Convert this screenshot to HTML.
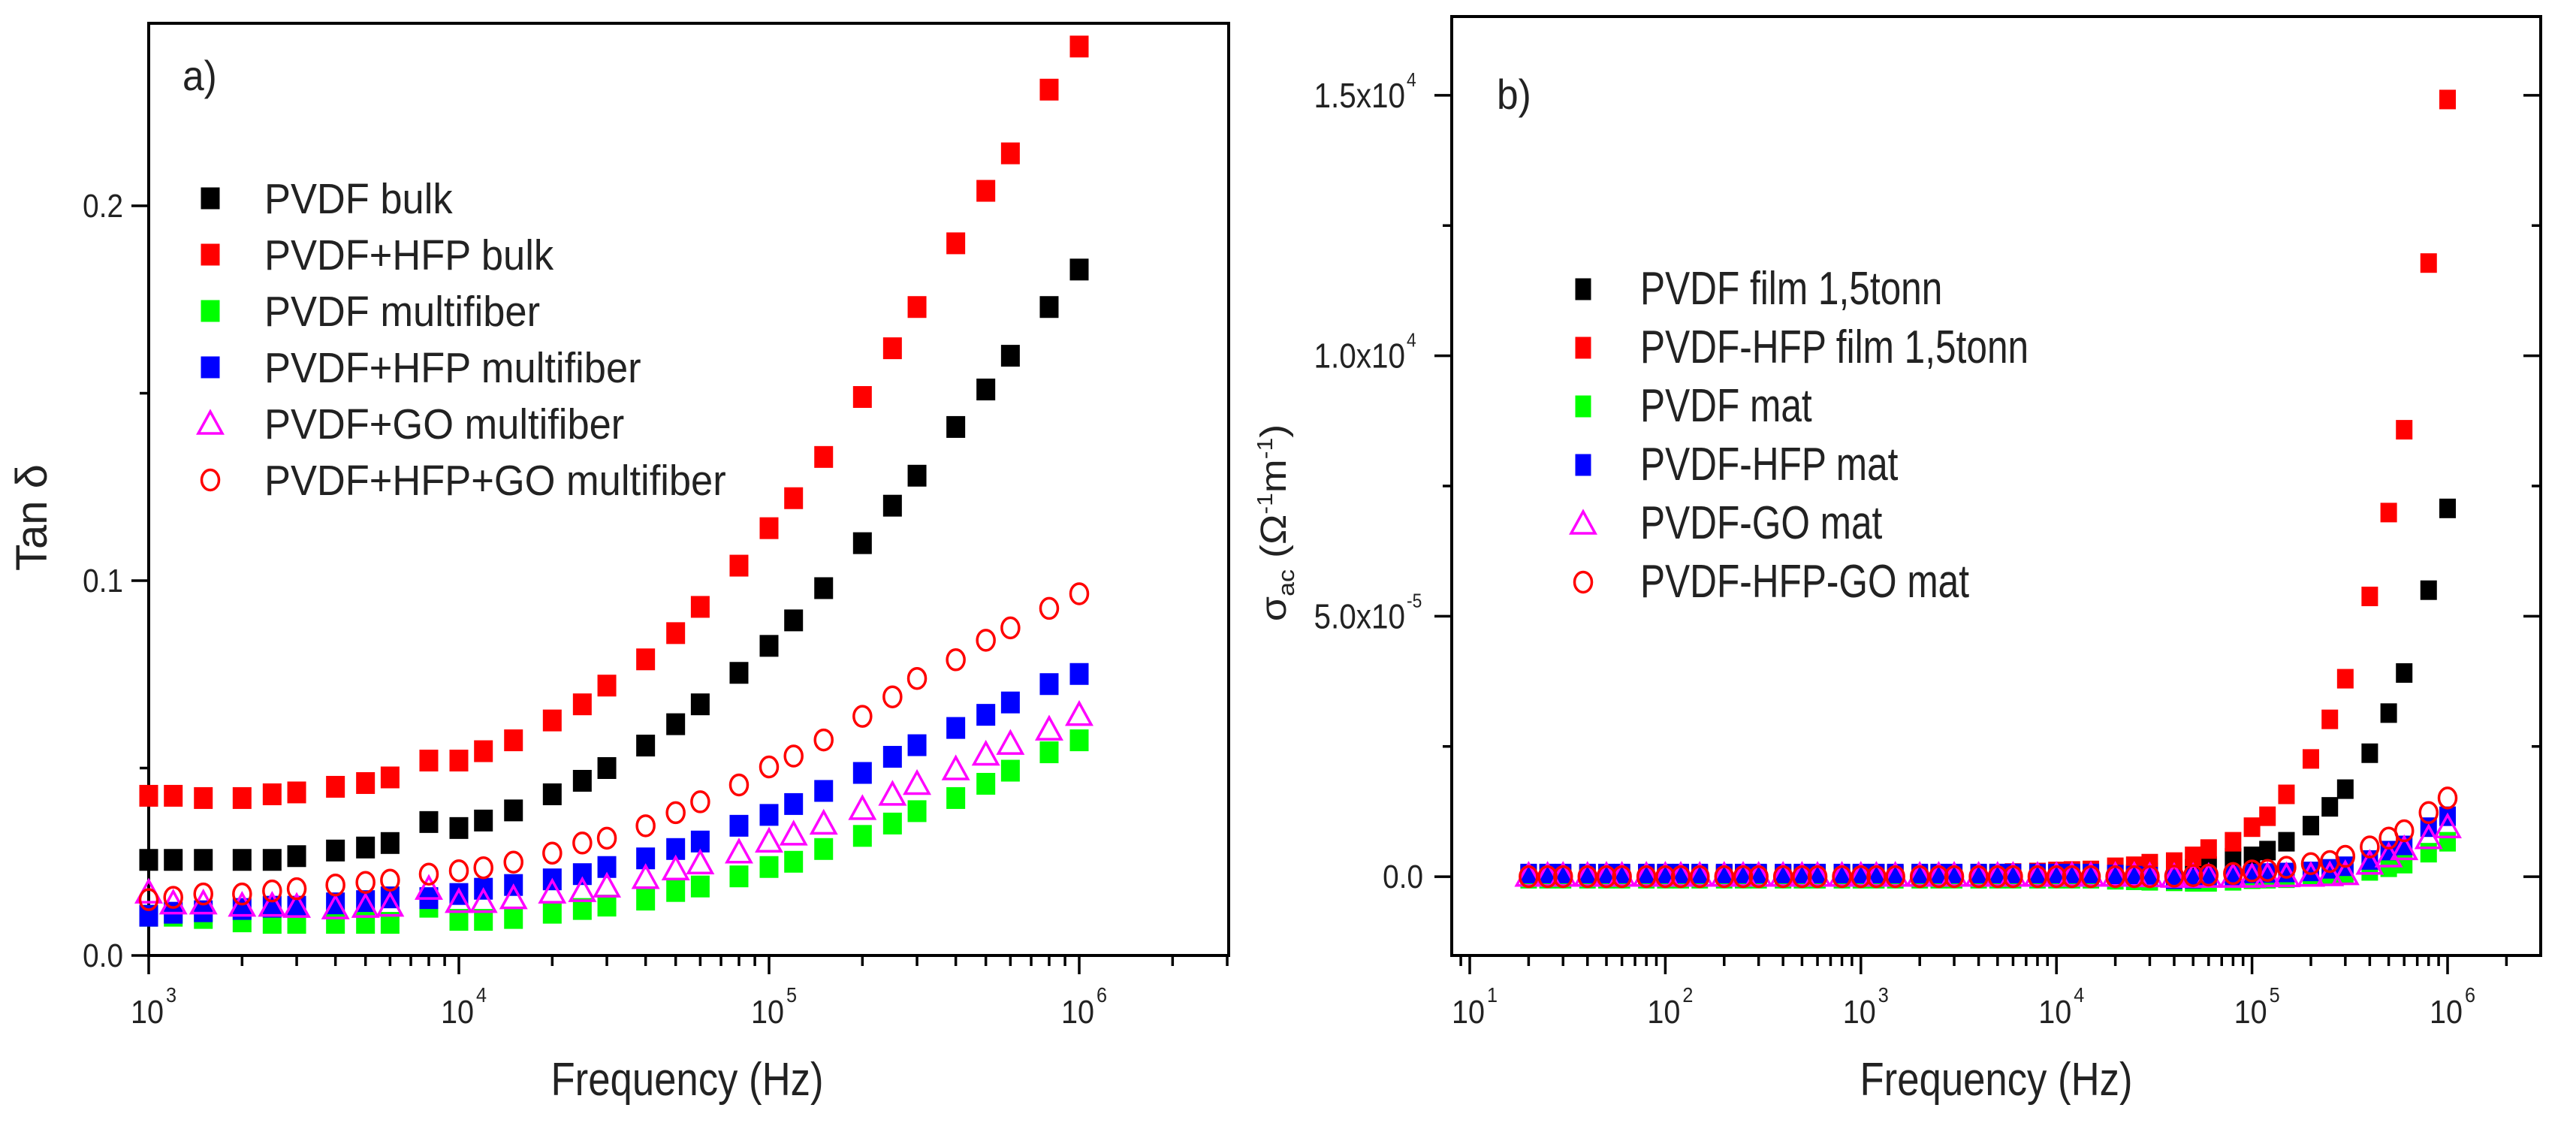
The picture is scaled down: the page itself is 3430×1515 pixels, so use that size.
<!DOCTYPE html>
<html><head><meta charset="utf-8"><style>
html,body{margin:0;padding:0;background:#fff;}
svg{display:block;}
text{font-family:"Liberation Sans",Arial,sans-serif;fill:#222;}
</style></head><body>
<svg id="chart" width="3430" height="1515" viewBox="0 0 3430 1515" xmlns="http://www.w3.org/2000/svg"></svg>
<script>
// ---- Panel a data ----
const freqA = [1e3,1.2e3,1.5e3,2e3,2.5e3,3e3,4e3,5e3,6e3,8e3,1e4,1.2e4,1.5e4,2e4,2.5e4,3e4,4e4,5e4,6e4,8e4,1e5,1.2e5,1.5e5,2e5,2.5e5,3e5,4e5,5e5,6e5,8e5,1e6];
const aPvdfBulk = [0.0255,0.0255,0.0255,0.0255,0.0255,0.0265,0.028,0.0288,0.030,0.0356,0.034,0.036,0.0387,0.043,0.0466,0.050,0.056,0.0617,0.067,0.0754,0.0826,0.0894,0.098,0.110,0.120,0.128,0.141,0.151,0.160,0.173,0.183];
const aHfpBulk = [0.0426,0.0426,0.042,0.042,0.043,0.0435,0.045,0.046,0.0475,0.052,0.052,0.0545,0.0574,0.0627,0.067,0.072,0.079,0.086,0.093,0.104,0.114,0.122,0.133,0.149,0.162,0.173,0.190,0.204,0.214,0.231,0.2425];
const aPvdfFiber = [0.0106,0.0106,0.010,0.0091,0.0087,0.0087,0.0087,0.0087,0.0087,0.013,0.0095,0.0095,0.010,0.0114,0.0124,0.0133,0.0149,0.0172,0.0184,0.0211,0.0236,0.025,0.0284,0.0319,0.0352,0.0385,0.042,0.0458,0.0493,0.0542,0.0574];
const aHfpFiber = [0.0106,0.0114,0.0118,0.0124,0.013,0.013,0.0139,0.0145,0.0155,0.0153,0.0164,0.0178,0.0188,0.0203,0.0217,0.0236,0.0259,0.0284,0.0304,0.0346,0.0375,0.0404,0.0439,0.0487,0.053,0.0561,0.0607,0.0642,0.0675,0.0724,0.0751];
const aGoFiber = [0.0168,0.0139,0.0139,0.0133,0.0133,0.013,0.0126,0.013,0.0133,0.0178,0.0143,0.0143,0.0153,0.0168,0.0172,0.0184,0.0207,0.023,0.0246,0.0275,0.0304,0.0323,0.0352,0.0391,0.0429,0.0458,0.0497,0.0536,0.0565,0.0603,0.0642];
const aHfpGoFiber = [0.0149,0.0155,0.0164,0.0164,0.0172,0.0178,0.0188,0.0195,0.0201,0.0217,0.0226,0.0234,0.0249,0.0273,0.030,0.0313,0.0346,0.0381,0.041,0.0455,0.0503,0.0532,0.0575,0.0638,0.069,0.0739,0.0789,0.0841,0.0874,0.0926,0.0965];
const aYTicks = [0.0,0.1,0.2];
const aYTickLabels = ["0.0","0.1","0.2"];
const aXTickExp = [3,4,5,6];
const aLegend = ["PVDF bulk","PVDF+HFP bulk","PVDF multifiber","PVDF+HFP multifiber","PVDF+GO multifiber","PVDF+HFP+GO multifiber"];

// ---- Panel b data ----
const freqB = [20,25,30,40,50,60,80,100,120,150,200,250,300,400,500,600,800,1e3,1.2e3,1.5e3,2e3,2.5e3,3e3,4e3,5e3,6e3,8e3,1e4,1.2e4,1.5e4,2e4,2.5e4,3e4,4e4,5e4,6e4,8e4,1e5,1.2e5,1.5e5,2e5,2.5e5,3e5,4e5,5e5,6e5,8e5,1e6];
const bPvdfFilm = [30,30,30,30,30,30,30,30,30,30,30,30,30,30,30,30,30,30,30,30,30,30,30,30,30,30,30,30,30,30,40,50,80,120,150,200,360,390,500,670,980,1340,1680,2370,3140,3910,5500,7070];
const bHfpFilm = [50,50,50,50,50,50,50,50,50,50,50,50,50,50,50,50,50,50,50,50,50,50,50,50,60,70,80,100,110,120,180,200,250,280,390,530,670,950,1160,1580,2260,3020,3800,5380,6990,8580,11780,14920];
const bPvdfMat = [-40,-40,-40,-40,-40,-40,-40,-40,-40,-40,-40,-40,-40,-40,-40,-40,-40,-40,-40,-40,-40,-40,-40,-40,-40,-40,-40,-40,-40,-40,-60,-70,-80,-90,-100,-100,-80,-50,-40,-30,0,30,60,110,180,250,460,670];
const bHfpMat = [60,60,60,60,60,60,60,60,60,60,60,60,60,60,60,60,60,60,60,60,60,60,60,60,60,60,60,60,60,60,40,20,0,-50,-40,-20,20,60,70,80,100,150,200,320,500,600,950,1160];
const bGoMat = [20,20,20,20,20,20,20,20,20,20,20,20,20,20,20,20,20,20,20,20,20,20,20,20,20,20,20,20,20,20,20,20,10,0,0,0,0,0,10,10,20,30,50,250,390,530,740,950];
const bHfpGoMat = [0,0,0,0,0,0,0,0,0,0,0,0,0,0,0,0,0,0,0,0,0,0,0,0,0,0,0,0,0,0,0,0,0,10,20,30,60,110,120,180,250,290,390,570,740,880,1230,1510];
const bYTicks = [0,5000,10000,15000];
const bYTickMant = ["0.0","5.0x10","1.0x10","1.5x10"];
const bYTickExp = ["","-5","4","4"];
const bXTickExp = [1,2,3,4,5,6];
const bLegend = ["PVDF film 1,5tonn","PVDF-HFP film 1,5tonn","PVDF mat","PVDF-HFP mat","PVDF-GO mat","PVDF-HFP-GO mat"];

const NS = "http://www.w3.org/2000/svg";
const svg = document.getElementById('chart');
function mk(tag, attrs, parent){
  const e = document.createElementNS(NS, tag);
  for (const k in attrs) e.setAttribute(k, attrs[k]);
  (parent||svg).appendChild(e);
  return e;
}
function txt(parent, x, y, s, size, sx, anchor, name){
  const g = mk('g', {transform:`translate(${x},${y}) scale(${sx},1)`}, parent);
  const t = mk('text', {x:0, y:0, 'font-size':size, 'text-anchor':anchor||'start'}, g);
  
  
  t.textContent = s;
  return t;
}
function marker(parent, type, cx, cy, color, w, h){
  let e;
  if (type === 'sq') e = mk('rect', {x:cx-w/2, y:cy-h/2, width:w, height:h, fill:color}, parent);
  else if (type === 'tri') e = mk('polygon', {points:`${cx},${cy-16} ${cx-16},${cy+13} ${cx+16},${cy+13}`, fill:'none', stroke:color, 'stroke-width':3.5}, parent);
  else e = mk('ellipse', {cx:cx, cy:cy, rx:11.5, ry:13.5, fill:'none', stroke:color, 'stroke-width':3.5}, parent);
  return e;
}
const types = ['sq','sq','sq','sq','tri','circ'];
const colors = ['#000','#ff0000','#00ff00','#0000ff','#ff00ff','#ff0000'];

function panel(cfg){
  const g = mk('g', {});
  
  
  const X = f => cfg.x0 + (Math.log10(f) - cfg.lmin) / (cfg.lmax - cfg.lmin) * (cfg.x1 - cfg.x0);
  const Y = v => cfg.y1 - (v - cfg.vmin) / (cfg.vmax - cfg.vmin) * (cfg.y1 - cfg.y0);
  // frame
  const fr = mk('rect', {x:cfg.x0, y:cfg.y0, width:cfg.x1-cfg.x0, height:cfg.y1-cfg.y0, fill:'none', stroke:'#000', 'stroke-width':4}, g);
  
  
  // x ticks
  const xt = mk('g', {}, g);
  
  
  for (let d = Math.floor(cfg.lmin); d <= Math.ceil(cfg.lmax); d++){
    for (let m = 1; m < 10; m++){
      const l = d + Math.log10(m);
      if (l < cfg.lmin - 1e-9 || l > cfg.lmax + 1e-9) continue;
      const x = X(Math.pow(10, l));
      mk('line', {x1:x, x2:x, y1:cfg.y1, y2:cfg.y1 + (m===1?25:14), stroke:'#000', 'stroke-width':3.5}, xt);
    }
  }
  cfg.xExp.forEach(e => {
    const x = X(Math.pow(10, e));
    const t = txt(g, x - 2, cfg.y1 + 90, '10', 44, 0.9, 'middle', 'x-tick-label');
    const s = txt(g, x + 23, cfg.y1 + 62, String(e), 28, 0.9, 'start', 'x-tick-exponent');
  });
  // y ticks
  const yt = mk('g', {}, g);
  
  
  for (let v = cfg.yMinorStart; v <= cfg.vmax; v += cfg.yMinor){
    const y = Y(v);
    const major = cfg.yTicks.some(t => Math.abs(t - v) < cfg.yMinor/10);
    mk('line', {x1:cfg.x0 - (major?23:12), x2:cfg.x0, y1:y, y2:y, stroke:'#000', 'stroke-width':3.5}, yt);
    if (cfg.rightTicks) mk('line', {x1:cfg.x1 - (major?23:12), x2:cfg.x1, y1:y, y2:y, stroke:'#000', 'stroke-width':3.5}, yt);
  }
  cfg.yTicks.forEach((v, i) => {
    const y = Y(v);
    if (cfg.yExp && cfg.yExp[i]) {
      txt(g, cfg.ylabX - 24, y + 16, cfg.yMant[i], 46, 0.88, 'end', 'y-tick-label');
      txt(g, cfg.ylabX - 22, y - 12, cfg.yExp[i], 26, 0.88, 'start', 'y-tick-exponent');
    } else {
      txt(g, cfg.ylabX, y + 15, cfg.yMant[i], 44, 0.88, 'end', 'y-tick-label');
    }
  });
  // series
  cfg.series.forEach((arr, si) => {
    const sg = mk('g', {}, g);
    
    
    arr.forEach((v, i) => {
      const m = marker(sg, types[si], X(cfg.freq[i]), Y(v), colors[si], cfg.mw, cfg.mh);
      
      
    });
  });
  // legend
  const lg = mk('g', {}, g);
  
  
  cfg.legend.forEach((s, i) => {
    const y = cfg.legY0 + i * cfg.legDy;
    const m = marker(lg, types[i], cfg.legMX, y, colors[i], cfg.legMW, 29);
    
    
    txt(lg, cfg.legTX, y + 20, s, cfg.legFont, cfg.legSx, 'start', 'legend-entry');
  });
  txt(g, cfg.tagX, cfg.tagY, cfg.tag, 56, 0.92, 'start', 'panel-label');
  txt(g, cfg.xtitleX, 1458, 'Frequency (Hz)', 62, 0.85, 'middle', 'x-axis-title');
  return g;
}

panel({name:'panel-a', x0:198, x1:1636, y0:31, y1:1272, lmin:3, lmax:3+(1636-198)/413, vmin:0, vmax:0.2487,
  xExp:aXTickExp, yTicks:aYTicks, yMant:aYTickLabels, yMinor:0.05, yMinorStart:0, rightTicks:false, ylabX:164,
  freq:freqA, series:[aPvdfBulk,aHfpBulk,aPvdfFiber,aHfpFiber,aGoFiber,aHfpGoFiber], mw:25, mh:29,
  legend:aLegend, legY0:264, legDy:75, legMX:280, legMW:25, legTX:352, legFont:57, legSx:0.92,
  tag:'a)', tagX:243, tagY:120, xtitleX:915});

panel({name:'panel-b', x0:1933, x1:3383, y0:22, y1:1272, lmin:1+(1933-1957)/260.4, lmax:1+(3383-1957)/260.4, vmin:-1513, vmax:16513,
  xExp:bXTickExp, yTicks:bYTicks, yMant:bYTickMant, yExp:bYTickExp, yMinor:2500, yMinorStart:0, rightTicks:true, ylabX:1895,
  freq:freqB, series:[bPvdfFilm,bHfpFilm,bPvdfMat,bHfpMat,bGoMat,bHfpGoMat], mw:22, mh:26,
  legend:bLegend, legY0:385, legDy:78, legMX:2108, legMW:21, legTX:2184, legFont:62, legSx:0.8,
  tag:'b)', tagX:1993, tagY:145, xtitleX:2658});

// y-axis titles
const ta = mk('g', {transform:'translate(62,689) rotate(-90)'});
const tat = mk('text', {x:0, y:0, 'font-size':58, 'text-anchor':'middle'}, ta);


tat.textContent = 'Tan δ';

const tb = mk('g', {transform:'translate(1712,696) rotate(-90) scale(1,0.9)'});
const tbt = mk('text', {x:0, y:0, 'font-size':54, 'text-anchor':'middle'}, tb);


tbt.innerHTML = 'σ<tspan font-size="34" dy="12">ac</tspan><tspan dy="-12"> (Ω</tspan><tspan font-size="32" dy="-20">-1</tspan><tspan dy="20">m</tspan><tspan font-size="32" dy="-20">-1</tspan><tspan dy="20">)</tspan>';
</script>
</body></html>
